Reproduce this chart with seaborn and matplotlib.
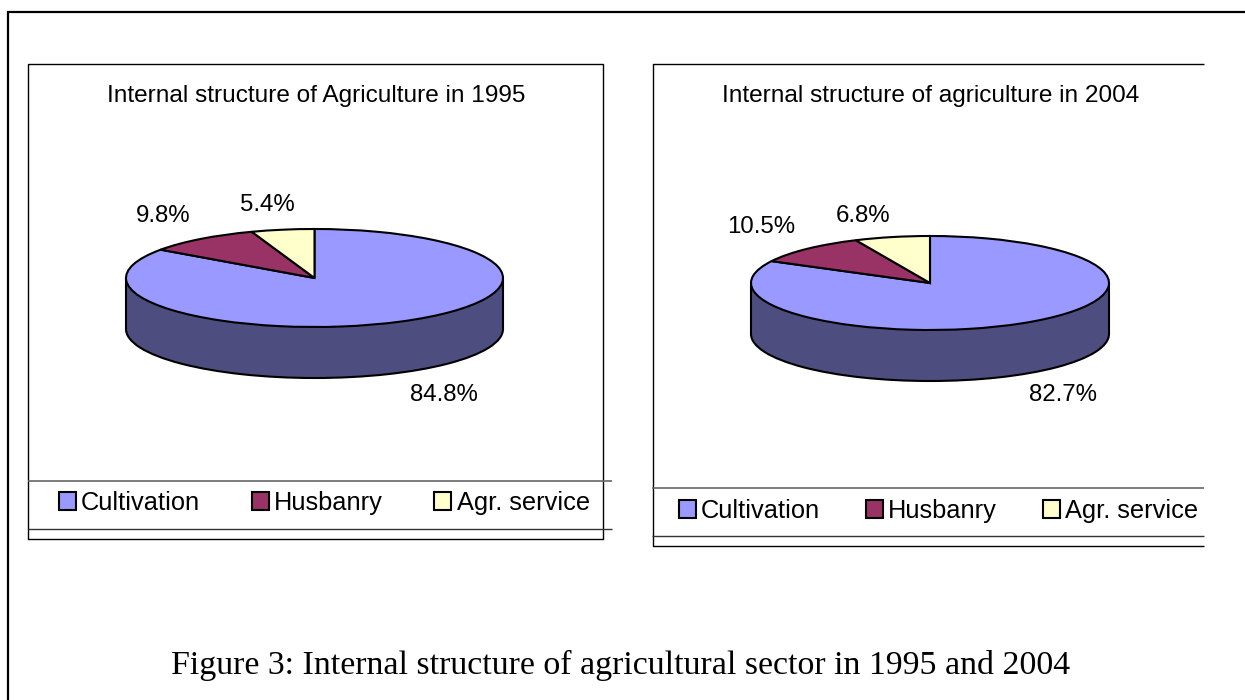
import matplotlib
matplotlib.use("Agg")
import matplotlib.pyplot as plt
import seaborn as sns

categories = ["Cultivation", "Husbanry", "Agr. service"]
values_1995 = [84.8, 9.8, 5.4]
values_2004 = [82.7, 10.5, 6.8]
title_1995 = "Internal structure of Agriculture in 1995"
title_2004 = "Internal structure of agriculture in 2004"
caption = "Figure 3: Internal structure of agricultural sector in 1995 and 2004"

W, H = 1245, 700
sns.set_theme(style="white")
plt.rcParams["font.family"] = ["Liberation Sans", "DejaVu Sans"]
palette = sns.color_palette(["#9999FF", "#993366", "#FFFFCC"])
side_color = "#4D4D80"

fig = plt.figure(figsize=(W / 100, H / 100), dpi=100, facecolor="white")
ov = fig.add_axes([0, 0, 1, 1])
ov.set_xlim(0, W)
ov.set_ylim(H, 0)
ov.axis("off")


def line(xs, ys, color="black", lw=1.0):
    ov.plot(xs, ys, color=color, lw=lw, solid_capstyle="butt", clip_on=False)


def pie3d(values, left, right, top, mid, bottom):
    """Flat pie on a squashed axes, with a darker copy below it as the side."""
    ax = fig.add_axes([left / W, 1 - bottom / H, (right - left) / W, (bottom - top) / H])
    semi = mid - top
    depth = (bottom - mid - semi) / semi
    lw = 1.5
    base, _ = ax.pie([sum(values)], colors=[side_color], startangle=90, center=(0, -depth),
                     wedgeprops=dict(edgecolor="black", linewidth=lw))
    wedges, _ = ax.pie(values, colors=palette, startangle=90, counterclock=False,
                       wedgeprops=dict(edgecolor="black", linewidth=lw))
    for w in base:
        w.set_clip_on(False)
        w.set_zorder(1)
    for w in wedges:
        w.set_clip_on(False)
        w.set_zorder(4)
    ax.fill_between([-1, 1], 0, -depth, color=side_color, lw=0, zorder=2)
    ax.plot([-1, -1], [0, -depth], color="black", lw=lw, zorder=3, clip_on=False)
    ax.plot([1, 1], [0, -depth], color="black", lw=lw, zorder=3, clip_on=False)
    ax.set_aspect("auto")
    ax.set_xlim(-1, 1)
    ax.set_ylim(-1 - depth, 1)
    ax.axis("off")
    return wedges


def legend(wedges, x, y, colspace):
    fig.legend(wedges, categories, loc="center left",
               bbox_to_anchor=(x / W, 1 - y / H), bbox_transform=fig.transFigure,
               ncols=3, frameon=False, fontsize=18.3, labelcolor="black",
               handlelength=0.67, handleheight=0.67, handletextpad=0.2,
               columnspacing=colspace, borderpad=0, borderaxespad=0)


# outer page frame
line([7.5, 7.5], [11, H], lw=1.6)
line([6.5, W], [12, 12], lw=1.6)

# left chart frame
line([28, 603, 603, 28, 28], [64, 64, 539, 539, 64])
line([28, 612], [481, 481], color="#666666", lw=1.2)
line([28, 612], [529, 529], color="#333333", lw=1.0)

# right chart frame, cut off on the right
line([1204, 652.5, 652.5, 1204], [64, 64, 546, 546])
line([652, 1204], [488, 488], color="#666666", lw=1.2)
line([652, 1204], [536, 536], color="#333333", lw=1.0)

w1 = pie3d(values_1995, 126, 503, 229, 278, 378)
w2 = pie3d(values_2004, 751, 1109, 236, 283, 381)
legend(w1, 58.5, 503, 2.04)
legend(w2, 678.5, 511, 1.81)

for txt, x, y in [(title_1995, 316, 96), (title_2004, 930.5, 96)]:
    ov.text(x, y, txt, ha="center", va="center", fontsize=17.55, color="black")

label_pos_1995 = [(443.5, 395), (163, 216), (267, 205)]
label_pos_2004 = [(1063.5, 395), (761, 227), (863, 216)]
for vals, pos in [(values_1995, label_pos_1995), (values_2004, label_pos_2004)]:
    for v, (x, y) in zip(vals, pos):
        ov.text(x, y, f"{v:.1f}%", ha="center", va="center", fontsize=17.3, color="black")

ov.text(620.5, 665, caption, ha="center", va="center", fontsize=24.36, color="black",
        family=["Liberation Serif", "DejaVu Serif"])

fig.savefig("out.png", dpi=100)
